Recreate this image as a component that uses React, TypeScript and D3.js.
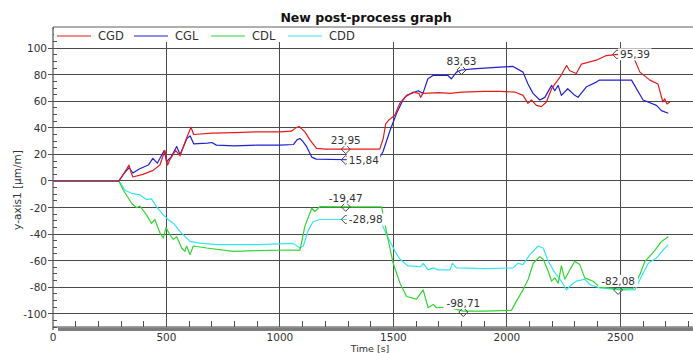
import React from "react";
import * as d3 from "d3";

// series: [time s, value µm/m]
const seriesNames = ["CGD", "CGL", "CDL", "CDD"];
const seriesColors = ["#e61c1c", "#2020d4", "#33d633", "#33e6f0"];

const cgd: [number, number][] = [
  [0, 0], [290, 0], [310, 5], [335, 12], [345, 6], [352, 3], [396, 5], [441, 8], [471, 12], [493, 23],
  [505, 12], [515, 16], [540, 23], [560, 19], [590, 33], [608, 40.5], [620, 35], [700, 36], [800, 36.5],
  [900, 37], [1000, 37], [1050, 37.5], [1070, 40], [1085, 41], [1110, 37], [1132, 31], [1161, 24.5],
  [1200, 24], [1300, 24], [1440, 24], [1455, 32], [1466, 43], [1480, 46], [1506, 49.5], [1528, 58.5], [1550, 63],
  [1587, 67], [1612, 66], [1620, 63], [1630, 66], [1700, 66.5], [1750, 66], [1800, 67], [1900, 67.5],
  [1969, 67.5], [2035, 67], [2071, 64.5], [2093, 58.5], [2108, 61], [2130, 57], [2152, 56], [2174, 59.5],
  [2197, 69.5], [2233, 78], [2263, 87], [2277, 83], [2306, 81], [2328, 88], [2394, 91], [2438, 94.5],
  [2490, 95.4], [2555, 94.5], [2586, 82], [2630, 76], [2666, 73], [2687, 59.5], [2695, 62], [2705, 58],
  [2718, 59.5],
];

const cgl: [number, number][] = [
  [0, 0], [290, 0], [310, 5], [335, 10], [352, 6], [380, 9], [420, 12], [440, 17], [460, 13.5], [490, 23],
  [500, 14.5], [520, 18], [545, 26], [560, 20], [590, 32], [604, 34], [620, 28], [680, 28.5], [700, 29],
  [720, 27], [800, 26.5], [900, 27], [1000, 27], [1060, 27.5], [1075, 31], [1088, 32], [1100, 30],
  [1117, 26], [1140, 18], [1160, 16.5], [1300, 16], [1433, 16], [1454, 22], [1485, 38], [1514, 51],
  [1542, 61], [1558, 64.5], [1609, 68], [1630, 66], [1652, 77], [1674, 79.5], [1740, 79.5], [1755, 77],
  [1778, 82], [1800, 83.6], [1850, 84.5], [1969, 85.8], [2027, 86.3], [2071, 82], [2093, 73], [2115, 66],
  [2145, 61], [2167, 63], [2197, 72], [2211, 68], [2226, 72], [2240, 64.5], [2268, 69.5], [2299, 64.5],
  [2313, 63], [2351, 71], [2394, 74.5], [2408, 76], [2549, 76], [2600, 61], [2659, 57], [2681, 53],
  [2711, 51],
];

const cdl: [number, number][] = [
  [0, 0], [290, 0], [310, -7], [347, -17], [368, -20], [383, -19], [412, -25.5], [434, -32], [449, -29],
  [471, -39], [486, -43], [498, -35], [515, -40.5], [530, -44], [545, -42], [567, -50.5], [581, -53],
  [589, -49], [604, -55.5], [618, -49], [677, -50.5], [794, -53], [900, -52.5], [1058, -52], [1088, -52.3],
  [1110, -34], [1140, -20.5], [1154, -23], [1176, -19.3], [1300, -19.5], [1448, -19.5], [1470, -39],
  [1499, -62], [1529, -77], [1558, -87], [1602, -89], [1631, -82], [1653, -95.5], [1675, -93], [1690, -95.5],
  [1734, -95], [1771, -96.3], [1807, -98], [1900, -98], [2020, -97.5], [2042, -90.5], [2071, -82],
  [2094, -74], [2116, -62], [2145, -57], [2160, -59], [2182, -68], [2197, -75.5], [2211, -73], [2226, -77],
  [2240, -64], [2255, -74], [2277, -67], [2299, -60.5], [2321, -63], [2343, -73], [2380, -75.5],
  [2409, -80], [2500, -81.5], [2556, -81], [2586, -70.5], [2608, -60.5], [2644, -54], [2666, -49],
  [2681, -45.5], [2711, -42],
];

const cdd: [number, number][] = [
  [0, 0], [290, 0], [303, -3], [317, -7], [347, -9.3], [383, -10.5], [412, -14], [434, -13.5], [456, -19.3],
  [486, -25.5], [508, -29], [537, -33], [559, -38], [589, -43], [604, -45.5], [647, -46.8], [721, -48],
  [900, -48], [1058, -47], [1088, -50.5], [1103, -49], [1125, -37], [1147, -30.5], [1176, -29], [1300, -29],
  [1440, -29], [1470, -40.5], [1507, -53], [1529, -59], [1565, -64], [1620, -64.5], [1631, -62], [1653, -67],
  [1675, -65.5], [1697, -67], [1749, -67], [1760, -62], [1778, -65.5], [1900, -66], [2027, -65.5],
  [2049, -62], [2071, -63], [2101, -55.5], [2138, -49], [2160, -50.5], [2182, -60.5], [2211, -69],
  [2240, -75.5], [2263, -82], [2285, -78], [2306, -75.5], [2343, -74], [2365, -78], [2409, -80.5],
  [2500, -82], [2564, -82], [2593, -72], [2623, -62], [2659, -58], [2688, -52], [2711, -48],
];

const seriesData = [cgd, cgl, cdl, cdd];

// markers with value labels
const markerTimes = [1290, 1290, 1290, 1290, 1800, 1808, 2485, 2490];
const markerValues = [23.95, 15.84, -19.47, -28.98, 83.63, -98.71, 95.39, -82.08];
const markerLabels = ["23,95", "15,84", "-19,47", "-28,98", "83,63", "-98,71", "95,39", "-82,08"];
const markerSides = ["top", "right", "top", "right", "top", "top", "right", "top"];

const xTicks = [0, 500, 1000, 1500, 2000, 2500];
const yTicks = [-100, -80, -60, -40, -20, 0, 20, 40, 60, 80, 100];

const FONT = "'DejaVu Sans', Verdana, sans-serif";

export default function App() {
  const width = 693;
  const height = 353;
  const left = 53, right = 693, top = 27, bottom = 327;

  const x = d3.scaleLinear().domain([0, 2820]).range([left, right]);
  const y = d3.scaleLinear().domain([-110, 116]).range([bottom, top]);

  const line = d3.line<[number, number]>()
    .x(d => x(d[0]))
    .y(d => y(d[1]));

  const minorY = d3.range(-110, 116, 5);
  const minorX = d3.range(100, 2820, 100);
  const drawOrder = [3, 2, 1, 0];

  return (
    <svg width={width} height={height} style={{ position: "absolute", left: 0, top: 0, background: "#fff" }}
      fontFamily={FONT}>
      <text x={366} y={22} textAnchor="middle" fontSize={12.5} fontWeight="bold" fill="#111">
        New post-process graph
      </text>

      {/* grid */}
      <g stroke="#4a4a4a" strokeWidth={1} shapeRendering="crispEdges">
        {yTicks.map(t => (
          <line key={"gy" + t} x1={left} x2={right} y1={y(t)} y2={y(t)} />
        ))}
        {xTicks.filter(t => t > 0).map(t => (
          <line key={"gx" + t} x1={x(t)} x2={x(t)} y1={42} y2={bottom} />
        ))}
      </g>

      {/* frame */}
      <line x1={left} x2={right} y1={top} y2={top} stroke="#606060" strokeWidth={1.2} />
      <line x1={left} x2={left} y1={top} y2={bottom + 3} stroke="#505050" strokeWidth={1.2} />
      <line x1={left} x2={right} y1={bottom} y2={bottom} stroke="#404040" strokeWidth={1} />
      <rect x={58} y={bottom + 0.5} width={right - 58} height={3.5} fill="#7d7d7d" />

      {/* ticks */}
      <g stroke="#505050" strokeWidth={1} shapeRendering="crispEdges">
        {minorY.map(t => (
          <line key={"my" + t} x1={left} x2={left + 4} y1={y(t)} y2={y(t)} />
        ))}
        {yTicks.map(t => (
          <line key={"ty" + t} x1={left - 5} x2={left} y1={y(t)} y2={y(t)} />
        ))}
        {minorX.map(t => (
          <line key={"mx" + t} x1={x(t)} x2={x(t)} y1={bottom - 6} y2={bottom} />
        ))}
      </g>
      <g fontSize={10.5} fill="#333">
        {yTicks.map(t => (
          <text key={"ly" + t} x={left - 6} y={y(t) + 4} textAnchor="end">{t}</text>
        ))}
        {xTicks.map(t => (
          <text key={"lx" + t} x={x(t)} y={341} textAnchor="middle">{t}</text>
        ))}
      </g>
      <text x={370} y={352} textAnchor="middle" fontSize={9.5} fill="#333">Time [s]</text>
      <text transform="translate(21,190) rotate(-90)" textAnchor="middle" fontSize={10.5} fill="#333">
        y-axis1 [µm/m]
      </text>

      {/* series */}
      <g fill="none" strokeWidth={1.2} strokeLinejoin="round">
        {drawOrder.map(i => (
          <path key={seriesNames[i]} d={line(seriesData[i]) || ""} stroke={seriesColors[i]} />
        ))}
      </g>

      {/* markers */}
      {markerValues.map((v, i) => {
        const cx = x(markerTimes[i]);
        const cy = y(v);
        const label = markerLabels[i];
        const w = label.length * 6.3 + 2;
        const isTop = markerSides[i] === "top";
        const tx = isTop ? cx - w / 2 : cx + 1;
        const baseline = isTop ? cy - 5 : cy + 4;
        return (
          <g key={"m" + i}>
            <path d={`M${cx - 4.5},${cy} L${cx},${cy - 4.5} L${cx + 4.5},${cy} L${cx},${cy + 4.5} Z`}
              fill="none" stroke="#444" strokeWidth={1} />
            <rect x={tx} y={baseline - 10} width={w} height={12} fill="#fff" />
            <text x={isTop ? cx : tx + 2} y={baseline} textAnchor={isTop ? "middle" : "start"}
              fontSize={10.5} fill="#333">{label}</text>
          </g>
        );
      })}

      {/* legend */}
      <rect x={left + 1} y={top + 1} width={right - left - 1} height={13} fill="#fff" />
      {seriesNames.map((name, i) => {
        const lx = 57 + i * 77;
        return (
          <g key={"lg" + name}>
            <line x1={lx} x2={lx + 34} y1={36} y2={36} stroke={seriesColors[i]} strokeWidth={1.2} />
            <text x={lx + 41} y={40} fontSize={11.5} fill="#333">{name}</text>
          </g>
        );
      })}
    </svg>
  );
}
